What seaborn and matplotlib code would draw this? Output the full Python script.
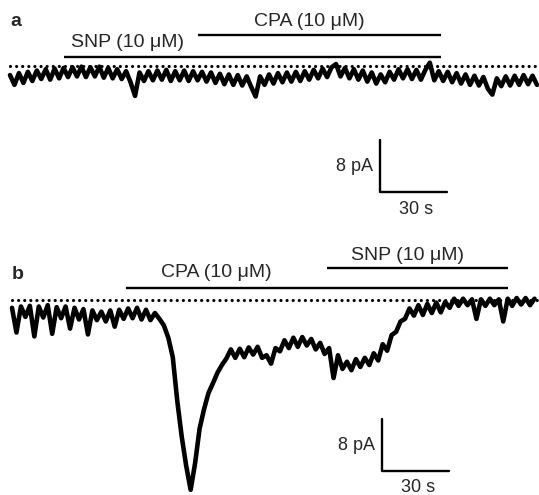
import matplotlib
matplotlib.use("Agg")
import matplotlib.pyplot as plt
import seaborn as sns
import pandas as pd

# Trace a: SNP then CPA, holding current relative to baseline (pA), sampled every 2 s
t_a = list(range(0, 238, 2))
i_a = [
    -1.4, -2.9, -1.1, -2.6, -0.9, -2.3, -0.7, -2.0, -0.5, -2.1,
    -0.4, -1.9, -0.3, -1.7, -0.2, -1.6, -0.1, -1.7, -0.2, -1.6,
    -0.1, -1.8, -0.3, -1.9, -0.5, -2.0, -0.8, -2.5, -4.6, -1.0,
    -2.3, -0.8, -2.2, -0.7, -2.1, -0.6, -2.3, -0.8, -2.2, -0.7,
    -2.3, -0.8, -2.2, -0.9, -2.4, -1.0, -2.6, -1.2, -2.8, -1.3,
    -2.9, -1.4, -3.0, -1.6, -3.2, -4.7, -1.6, -2.9, -1.3, -2.7,
    -1.1, -2.5, -1.0, -2.4, -0.9, -2.3, -0.8, -2.1, -0.6, -1.9,
    -0.4, -1.7, -0.2, 0.3, -1.6, -0.3, -1.9, -0.5, -2.1, -0.7,
    -2.4, -1.0, -2.7, -1.3, -2.5, -0.9, -2.1, -0.5, -1.9, -0.5,
    -2.0, -0.6, -2.1, -0.6, 0.5, -2.2, -0.8, -2.3, -0.9, -2.5,
    -1.1, -2.7, -1.3, -2.9, -1.5, -3.0, -1.7, -3.5, -4.4, -1.9,
    -3.1, -1.6, -3.0, -1.5, -2.9, -1.4, -2.8, -1.5, -2.9,
]

# Trace b: CPA then SNP
t_b = list(range(0, 236, 2))
i_b = [
    -1.2, -5.0, -1.0, -2.6, -0.9, -5.6, -1.0, -2.7, -0.8, -5.2,
    -1.1, -2.8, -1.0, -4.4, -1.2, -3.0, -1.4, -5.3, -1.6, -3.1,
    -1.8, -3.3, -1.6, -4.1, -1.5, -2.9, -1.3, -2.8, -1.2, -3.0,
    -1.5, -3.1, -2.0, -2.9, -3.9, -5.8, -8.8, -15.5, -21.0, -25.5,
    -29.2, -25.1, -19.8, -16.8, -14.3, -12.8, -11.2, -10.0, -9.0, -7.6,
    -8.9, -7.5, -8.8, -7.3, -8.4, -7.2, -8.9, -8.5, -9.8, -7.4,
    -7.9, -6.2, -7.4, -5.8, -7.2, -5.7, -7.0, -6.0, -7.6, -6.6,
    -8.3, -7.4, -12.0, -8.5, -10.6, -9.5, -10.8, -9.1, -10.3, -8.9,
    -10.0, -8.2, -9.3, -6.8, -7.8, -5.4, -4.9, -3.3, -2.9, -1.3,
    -2.4, -0.8, -2.3, -0.6, -2.0, -0.4, -1.9, -0.3, -1.2, 0.2,
    -0.9, 0.2, -0.8, 0.1, -2.9, 0.1, -0.9, 0.2, -0.8, 0.1,
    -3.3, 0.2, -0.9, 0.3, -0.7, 0.3, -0.8, 0.2,
]

# drug application periods (s)
snp_a = [24, 193]
cpa_a = [84, 193]
cpa_b = [51, 222]
snp_b = [141, 222]
drug_label = "(10 \u03bcM)"

# scale bars
scale_s = 30
scale_pa = 8

sns.set_style("white")
plt.rcParams['font.family'] = ['Liberation Sans', 'DejaVu Sans']

PX_S = 2.233   # pixels per second
PX_PA = 6.5    # pixels per pA

fig = plt.figure(figsize=(5.39, 4.95), dpi=100)
ax_a = fig.add_axes([0, 255 / 495, 1, 240 / 495])
ax_b = fig.add_axes([0, 0, 1, 255 / 495])

ax_a.set_xlim(-10 / PX_S, 529 / PX_S)
ax_a.set_ylim(-174 / PX_PA, 66 / PX_PA)
ax_b.set_xlim(-12 / PX_S, 527 / PX_S)
ax_b.set_ylim(-195 / PX_PA, 60 / PX_PA)

df_a = pd.DataFrame({"t": t_a, "i": i_a})
df_b = pd.DataFrame({"t": t_b, "i": i_b})

for ax, df in [(ax_a, df_a), (ax_b, df_b)]:
    sns.lineplot(data=df, x="t", y="i", ax=ax, color="black", lw=3.3,
                 estimator=None, sort=False)
    ax.plot([0, ax.get_xlim()[1]], [0, 0], color="black", lw=2.3,
            linestyle=(0, (0.01, 1.9)), dash_capstyle="round")
    ax.set_axis_off()

def drug_bar(ax, period, y, name, tx, ty):
    ax.hlines(y, period[0], period[1], color="black", lw=1.7)
    ax.text(tx, ty, name + " " + drug_label, ha="center", va="center", fontsize=14)

drug_bar(ax_a, snp_a, 1.38, "SNP", 52.4, 3.6)
drug_bar(ax_a, cpa_a, 4.77, "CPA", 134.0, 6.8)
drug_bar(ax_b, cpa_b, 1.85, "CPA", 91.4, 4.3)
drug_bar(ax_b, snp_b, 4.92, "SNP", 176.9, 6.8)

def scale_bar(ax, t0, y0):
    ax.plot([t0, t0, t0 + scale_s], [y0 + scale_pa, y0, y0], color="black", lw=1.7)
    ax.text(t0 - 3.0, y0 + 3.9, f"{scale_pa} pA", ha="right", va="center", fontsize=13)
    ax.text(t0 + 16.0, y0 - 2.6, f"{scale_s} s", ha="center", va="center", fontsize=13)

scale_bar(ax_a, 165.7, -19.4)
scale_bar(ax_b, 165.7, -26.3)

ax_a.text(2.7, 6.8, "a", ha="center", va="center", fontsize=14, fontweight="bold")
ax_b.text(2.7, 3.9, "b", ha="center", va="center", fontsize=14, fontweight="bold")

fig.savefig("out.png", dpi=100)
